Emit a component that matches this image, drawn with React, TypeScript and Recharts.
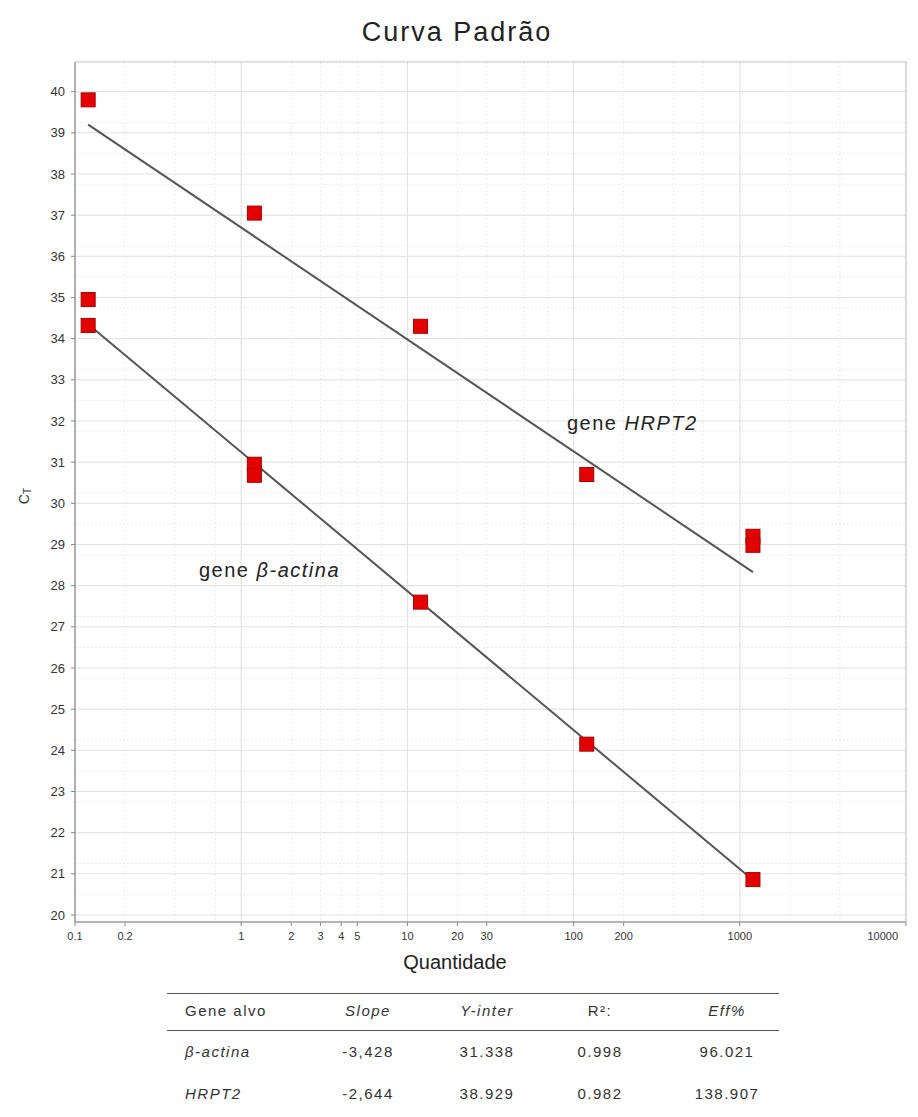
import React from 'react';
import {
  CartesianGrid,
  ReferenceArea,
  Scatter,
  ScatterChart,
  XAxis,
  YAxis,
} from 'recharts';

// replicates per dilution point
const hrptQty = [0.12, 1.2, 12, 120, 1200, 1200];
const hrptCt = [39.8, 37.05, 34.3, 30.7, 29.2, 28.98];
const actinaQty = [0.12, 0.12, 1.2, 1.2, 12, 120, 1200];
const actinaCt = [34.95, 34.32, 30.95, 30.68, 27.6, 24.15, 20.86];

// regression line ends
const fitQty = [0.12, 1200];
const hrptFit = [39.2, 28.33];
const actinaFit = [34.35, 20.85];

const xTicks = [0.1, 0.2, 1, 2, 3, 4, 5, 10, 20, 30, 100, 200, 1000, 10000];
const yTicks = [20, 21, 22, 23, 24, 25, 26, 27, 28, 29, 30, 31, 32, 33, 34, 35, 36, 37, 38, 39, 40];

const tableHeader = ['Gene alvo', 'Slope', 'Y-inter', 'R²:', 'Eff%'];
const tableGenes = ['β-actina', 'HRPT2'];
const tableSlope = ['-3,428', '-2,644'];
const tableYInter = ['31.338', '38.929'];
const tableR2 = ['0.998', '0.982'];
const tableEff = ['96.021', '138.907'];

const toPoints = (xs: number[], ys: number[]) => xs.map((x, i) => ({ x, y: ys[i] }));

// grid line positions
const minorX: number[] = [];
[0.1, 1, 10, 100, 1000].forEach((d) => {
  for (let k = 1; k < 10; k++) minorX.push(+(d * k).toPrecision(3));
});
minorX.push(10000);
const minorY: number[] = [];
for (let v = 19.75; v <= 40.75; v += 0.25) minorY.push(v);

const Square = (props: any) => {
  const { cx, cy } = props;
  if (cx == null || cy == null) return <g />;
  return <rect x={cx - 7} y={cy - 7} width={14} height={14} fill="#e30000" stroke="#a80000" strokeWidth={1} />;
};

const NoDot = () => <g />;

const font = '"Liberation Sans", Arial, sans-serif';

const XTick = (props: any) => {
  const { x, y, payload } = props;
  const last = payload.value === 10000;
  return (
    <text
      x={last ? x + 8 : x}
      y={y + 10}
      textAnchor={last ? 'end' : 'middle'}
      fontSize={11}
      fill="#333"
      fontFamily={'"Liberation Sans Narrow", ' + font}
    >
      {payload.value}
    </text>
  );
};

const XLabel = () => (
  <text x={447} y={961} textAnchor="middle" fontFamily={font} fontSize={20} fill="#222">
    Quantidade
  </text>
);

const YLabel = () => (
  <text x={21} y={488} transform="rotate(-90 21 488)" textAnchor="middle" fontFamily={font} fontSize={14} fill="#333">
    C<tspan fontSize={10} dy={2}>T</tspan>
  </text>
);

const cols = [185, 368, 487, 600, 727];

const App = () => {
  const rows = tableGenes.map((g, i) => [g, tableSlope[i], tableYInter[i], tableR2[i], tableEff[i]]);
  const italicHeader = [false, true, true, false, true];
  const cell = (text: string, col: number, top: number, italic: boolean, key: string) => (
    <div
      key={key}
      style={{
        position: 'absolute',
        top,
        left: col === 0 ? cols[0] - 8 : cols[col] - 8 - 60,
        width: col === 0 ? 150 : 120,
        textAlign: col === 0 ? 'left' : 'center',
        fontStyle: italic ? 'italic' : 'normal',
        fontSize: 15,
        letterSpacing: 1.5,
        color: '#333',
        lineHeight: '16px',
      }}
    >
      {text}
    </div>
  );

  return (
    <div style={{ position: 'relative', width: 902, height: 1109, fontFamily: font, background: '#fff' }}>
      <div
        style={{
          position: 'absolute',
          top: 9,
          left: 0,
          width: 898,
          textAlign: 'center',
          fontSize: 27,
          letterSpacing: 2,
          color: '#222',
        }}
      >
        Curva Padrão
      </div>
      <ScatterChart width={902} height={975} margin={{ top: 54, right: 4, bottom: 0, left: 0 }}>
        <CartesianGrid
          horizontalValues={minorY}
          verticalValues={minorX}
          stroke="#ececec"
          strokeDasharray="2 2"
        />
        <CartesianGrid
          horizontalValues={yTicks}
          verticalValues={[0.1, 1, 10, 100, 1000, 10000]}
          stroke="#e2e2e2"
        />
        <XAxis
          type="number"
          dataKey="x"
          scale="log"
          domain={[0.1, 10000]}
          ticks={xTicks}
          allowDataOverflow
          height={61}
          tickSize={4}
          tickMargin={4}
          stroke="#888"
          tick={<XTick />}
          label={<XLabel />}
        />
        <YAxis
          type="number"
          dataKey="y"
          domain={[19.83, 40.72]}
          ticks={yTicks}
          allowDataOverflow
          width={67}
          tickSize={4}
          tickMargin={6}
          stroke="#888"
          tick={{ fontSize: 13, fill: '#333', fontFamily: font }}
          label={<YLabel />}
        />
        <ReferenceArea x1={0.1} x2={10000} y1={19.83} y2={40.72} fill="none" stroke="#c8c8c8" ifOverflow="visible" />
        <Scatter
          data={toPoints(fitQty, hrptFit)}
          line={{ stroke: '#555', strokeWidth: 2 }}
          shape={NoDot}
          isAnimationActive={false}
        />
        <Scatter
          data={toPoints(fitQty, actinaFit)}
          line={{ stroke: '#555', strokeWidth: 2 }}
          shape={NoDot}
          isAnimationActive={false}
        />
        <Scatter data={toPoints(hrptQty, hrptCt)} shape={Square} isAnimationActive={false} />
        <Scatter data={toPoints(actinaQty, actinaCt)} shape={Square} isAnimationActive={false} />
      </ScatterChart>

      <div style={{ position: 'absolute', left: 559, top: 404, fontSize: 20, letterSpacing: 1.5, color: '#222' }}>
        gene <i>HRPT2</i>
      </div>
      <div style={{ position: 'absolute', left: 191, top: 551, fontSize: 20, letterSpacing: 1.5, color: '#222' }}>
        gene <i>β-actina</i>
      </div>

      <div style={{ position: 'absolute', left: 159, top: 985, width: 612, borderTop: '1.5px solid #555' }} />
      <div style={{ position: 'absolute', left: 159, top: 1022, width: 612, borderTop: '1.5px solid #555' }} />
      {tableHeader.map((h, c) => cell(h, c, 995, italicHeader[c], 'h' + c))}
      {rows.map((r, ri) =>
        r.map((t, c) => cell(t, c, 1036 + ri * 42, c === 0, 'r' + ri + c))
      )}
    </div>
  );
};

export default App;
